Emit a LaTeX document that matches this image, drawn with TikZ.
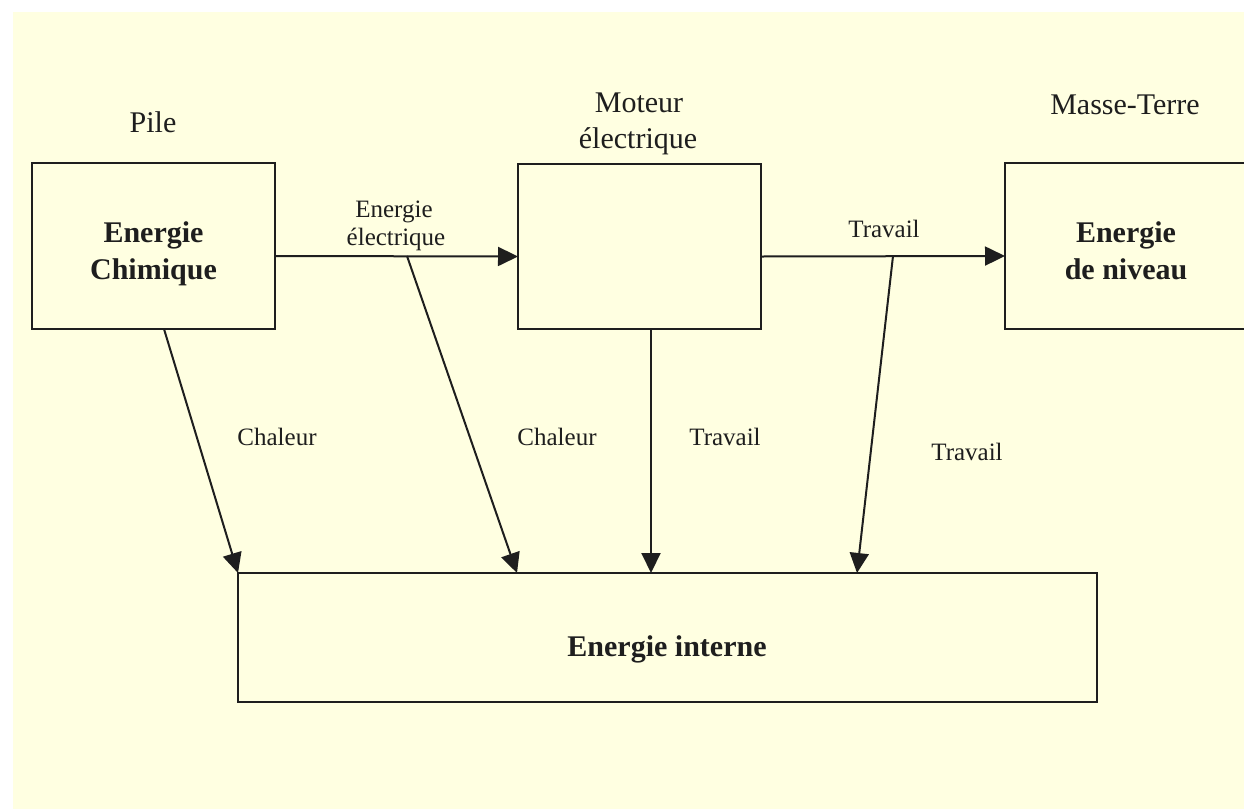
\documentclass[tikz,border=0pt]{standalone}
\usepackage{fontspec}
\setmainfont{Liberation Serif}
\usetikzlibrary{arrows.meta}
\definecolor{fond}{RGB}{255,255,225}
\definecolor{trait}{RGB}{30,30,30}
\begin{document}
\begin{tikzpicture}[x=1pt,y=-1pt,
  box/.style={draw=trait, line width=2pt, inner sep=0pt, outer sep=0pt},
  arr/.style={draw=trait, line width=2pt, -{Triangle[length=20pt,width=19pt]}},
  big/.style={font=\fontsize{30}{37}\selectfont, inner sep=0pt, anchor=base, text=trait},
  bigb/.style={big, font=\fontsize{30}{37}\selectfont\bfseries},
  small/.style={font=\fontsize{25}{30}\selectfont, inner sep=0pt, anchor=base, text=trait}]
\useasboundingbox (0,0) rectangle (1244,809);
\clip (0,0) rectangle (1244,809);
\fill[fond] (13,12) rectangle (1244,809);

% boxes
\node[box, minimum width=243pt, minimum height=166pt] (pile) at (153.5,246) {};
\node[box, minimum width=243pt, minimum height=165pt] (moteur) at (639.5,246.5) {};
\node[box, minimum width=243pt, minimum height=166pt] (niveau) at (1126.5,246) {};
\node[box, minimum width=859pt, minimum height=129pt] (interne) at (667.5,637.5) {};

% titles above the boxes
\node[big] (tpile) at (153,132) {Pile};
\node[big] (tmot1) at (639,112) {Moteur};
\node[big] (tmot2) at (638,148) {électrique};
\node[big] (tmasse) at (1125,114) {Masse-Terre};

% texts inside the boxes
\node[bigb] (chim1) at (153.5,242) {Energie};
\node[bigb] (chim2) at (153.5,279) {Chimique};
\node[bigb] (niv1) at (1126,242) {Energie};
\node[bigb] (niv2) at (1126,279) {de niveau};
\node[bigb] (tint) at (667,656) {Energie interne};

% branching points on the horizontal arrows
\coordinate (b1) at (407,256);
\coordinate (b2) at (893,256);

% connectors
\draw[arr] ([yshift=-10pt]pile.east) -- ([yshift=-10pt]moteur.west);
\draw[arr] ([yshift=-10pt]moteur.east) -- ([yshift=-10pt]niveau.west);
\draw[arr] ([xshift=10.5pt]pile.south) -- (interne.north west);
\draw[arr] (b1) -- ([xshift=279pt]interne.north west);
\draw[arr] ([xshift=11.5pt]moteur.south) -- ([xshift=413pt]interne.north west);
\draw[arr] (b2) -- ([xshift=619pt]interne.north west);

% connector labels
\node[small] (le1) at (394,217) {Energie};
\node[small] (le2) at (396,245) {électrique};
\node[small] (ltr1) at (884,237) {Travail};
\node[small] (lch1) at (277,445) {Chaleur};
\node[small] (lch2) at (557,445) {Chaleur};
\node[small] (ltr2) at (725,445) {Travail};
\node[small] (ltr3) at (967,460) {Travail};
\end{tikzpicture}
\end{document}
